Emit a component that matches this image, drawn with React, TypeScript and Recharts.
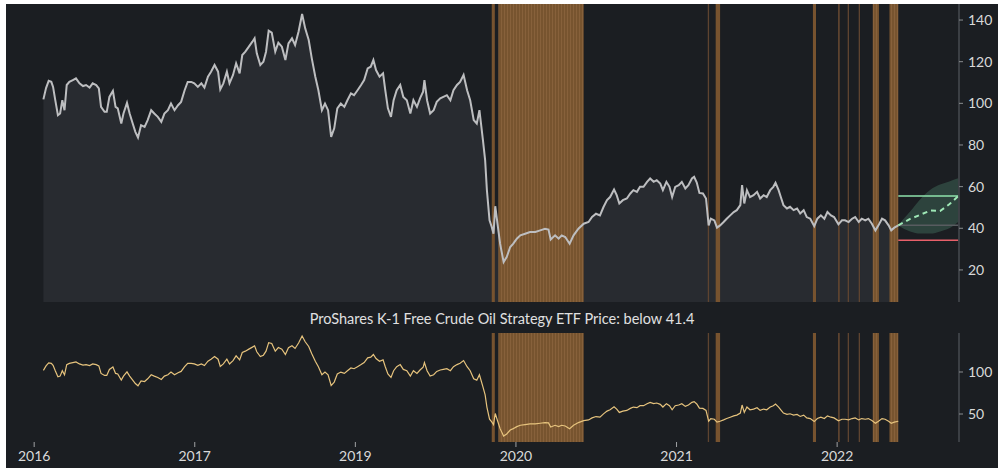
import {
  Area,
  ComposedChart,
  Line,
  ReferenceArea,
  ReferenceLine,
  XAxis,
  YAxis,
} from "recharts"

// day offsets (one tick = 365 days) and closing prices
const days = [
  21, 27, 33, 39, 43, 48, 54, 59, 64, 69, 74, 80, 88, 95, 103, 111, 118, 126, 133, 141,
  147, 152, 160, 165, 171, 179, 185, 190, 198, 203, 211, 217, 224, 230, 236, 243, 251, 258, 266, 273,
  281, 289, 296, 304, 311, 319, 327, 334, 342, 349, 357, 364, 372, 380, 387, 395, 402, 410, 418, 423,
  430, 438, 444, 452, 459, 467, 473, 480, 488, 496, 501, 506, 514, 521, 527, 533, 540, 548, 555, 563,
  571, 578, 586, 593, 601, 609, 616, 624, 631, 639, 646, 654, 661, 668, 675, 682, 689, 697, 705, 712,
  720, 727, 735, 743, 750, 758, 765, 771, 777, 785, 793, 798, 804, 811, 817, 824, 832, 839, 847, 855,
  862, 870, 877, 884, 887, 893, 900, 908, 915, 923, 930, 938, 946, 953, 961, 968, 976, 984, 991, 999,
  1006, 1012, 1020, 1025, 1029, 1035, 1040, 1044, 1048, 1053, 1059, 1067, 1074, 1082, 1089, 1097, 1105, 1116, 1127, 1139,
  1150, 1161, 1169, 1174, 1184, 1192, 1199, 1207, 1217, 1226, 1237, 1249, 1260, 1268, 1277, 1286, 1294, 1302, 1309, 1318,
  1324, 1330, 1338, 1347, 1355, 1362, 1370, 1377, 1385, 1393, 1400, 1408, 1415, 1423, 1429, 1437, 1444, 1450, 1457, 1465,
  1472, 1480, 1487, 1495, 1500, 1506, 1512, 1520, 1527, 1533, 1538, 1546, 1552, 1559, 1567, 1574, 1582, 1590, 1597, 1605,
  1609, 1614, 1620, 1627, 1635, 1643, 1650, 1658, 1665, 1673, 1680, 1685, 1692, 1697, 1703, 1711, 1718, 1726, 1734, 1741,
  1749, 1756, 1764, 1773, 1780, 1788, 1796, 1803, 1811, 1818, 1828, 1836, 1843, 1851, 1859, 1866, 1874, 1881, 1889, 1896,
  1904, 1912, 1919, 1927, 1934, 1942, 1948, 1955, 1964,
]

const price = [
  101.9, 107.3, 110.8, 110.3, 107.9, 101.5, 94.3, 95.1, 101.5, 96.7, 108.8, 110.3, 111.2, 112, 109.6, 108.3, 108.8, 107.6, 109.6, 108.8,
  107.2, 98.3, 95.9, 95.9, 103.1, 106, 98.3, 97.6, 90.3, 95.1, 100.2, 95.1, 90.3, 86.3, 83.6, 89.5, 88.7, 91.9, 96.7, 95.1,
  93.5, 91.1, 95.1, 96.7, 99.9, 96.7, 99.1, 100.7, 106.3, 110.3, 110.3, 109.6, 107.9, 109.6, 107.6, 112.8, 115.2, 118.4, 115.2, 106.7,
  109.6, 115.2, 109.6, 113.6, 119.2, 114.4, 123.2, 124.8, 127.2, 129.6, 131.2, 124, 118.4, 120, 124.8, 134.9, 134, 124.8, 129.1, 127.2,
  120.8, 128.8, 131.2, 128, 134.5, 142.9, 136, 130.4, 121.6, 112.8, 106.3, 96.7, 99.9, 96.7, 83.9, 88, 97.6, 99.9, 98.3, 101.5,
  104.8, 103.9, 106.3, 108.8, 111.2, 116.8, 117.6, 120.8, 116, 112.8, 114.4, 106.3, 97.6, 93.5, 101.5, 106.3, 108.8, 103.1, 101.5, 95.1,
  101.5, 98.3, 102.4, 105.6, 111.2, 101.5, 95.1, 96.7, 100.7, 102.4, 103.1, 103.9, 101.5, 106.3, 108.8, 110.3, 113.6, 106.3, 101.5, 92,
  90.3, 96.7, 82.3, 72.7, 58.3, 43.8, 40.6, 37.4, 50.6, 42.3, 32.6, 23.8, 26.2, 31, 32.6, 35, 36.6, 37.4, 38.2, 38.2,
  39, 39.8, 39.4, 34.6, 36.6, 35, 36.6, 35.8, 32.6, 36.6, 39.8, 42.2, 43, 45.4, 47, 46.2, 50.2, 53.5, 55, 58.6,
  55.9, 51.9, 53.5, 54.3, 56.7, 58.3, 57.5, 59.9, 59.9, 62.3, 63.9, 62.3, 63.1, 61.5, 58.3, 62.3, 59.9, 55, 59.9, 60.7,
  62.3, 59.1, 60.7, 63.9, 64.7, 62, 57, 56.7, 54.3, 41.4, 44.6, 43.8, 40.3, 41.4, 43, 44.6, 46.2, 47.8, 48.7, 51.1,
  60.7, 51.9, 58.3, 55, 55.9, 57.5, 54.3, 55.9, 55, 58.3, 59.9, 61.8, 58.3, 55, 51.1, 49.5, 50.3, 48.7, 49.5, 47.1,
  48.7, 45.4, 44.6, 41, 44.6, 46.2, 44.6, 47.8, 46.2, 45.4, 41.9, 43.8, 43.8, 43, 44.6, 45.4, 43, 44.6, 43.8, 44.6,
  42.2, 39, 41.4, 44.6, 43.8, 41.4, 39, 40.3, 41.4,
]

// forecast cone
const fcDays = [1964, 1991, 2014, 2037, 2059, 2080, 2100]
const fcMid = [41.4, 44.5, 46.5, 48.5, 48.3, 51.5, 55.4]
const fcLow = [41.2, 38.5, 37.5, 37.5, 38.5, 40, 43]
const fcHigh = [41.6, 48, 54, 58.5, 61, 62.5, 64]

const targetHigh = 55.5
const targetLow = 34.3
const threshold = 41.4

// periods where price was below threshold
const bandStart = [1040, 1055, 1531, 1549, 1770, 1827, 1849, 1874, 1906, 1944]
const bandEnd = [1047, 1249, 1534, 1559, 1777, 1831, 1852, 1877, 1920, 1964]

const tickDays = [0, 365, 730, 1095, 1460, 1825]
const tickLabels = ["2016", "2017", "2019", "2020", "2021", "2022"]
const topTicks = [20, 40, 60, 80, 100, 120, 140]
const bottomTicks = [50, 100]

const rows = [
  ...days.map((d, i) => ({ day: d, price: price[i] })),
  ...fcDays.map((d, i) => ({ day: d, mid: fcMid[i], range: [fcLow[i], fcHigh[i]] })),
]

const FONT = "Lato, sans-serif"
const BG = "#1b1e22"
const X_DOMAIN: [number, number] = [-64, 2102]
const tickStyle = { fill: "#d9d9d9", fontSize: 14, fontFamily: FONT }

const bandFill = (i: number) => {
  const w = bandEnd[i] - bandStart[i]
  if (w > 12) return "url(#stripes)"
  if (w < 5) return "#5e4430"
  return "#77532f"
}

function Bands() {
  return (
    <>
      {bandStart.map((s, i) => (
        <ReferenceArea
          key={i}
          x1={s}
          x2={bandEnd[i]}
          fill={bandFill(i)}
          fillOpacity={1}
          stroke="none"
          ifOverflow="hidden"
        />
      ))}
    </>
  )
}

function StripeDefs() {
  return (
    <defs>
      <pattern id="stripes" patternUnits="userSpaceOnUse" width="3" height="10">
        <rect x="0" y="0" width="3" height="10" fill="#77542f" />
        <rect x="0" y="0" width="1" height="10" fill="#87613b" />
      </pattern>
    </defs>
  )
}

export default function App() {
  return (
    <div
      style={{
        position: "fixed",
        left: 6,
        top: 4,
        width: 992,
        height: 464,
        background: BG,
        overflow: "hidden",
        fontFamily: FONT,
      }}
    >
      <div style={{ position: "absolute", left: 0, top: 0 }}>
        <ComposedChart width={992} height={310} data={rows} margin={{ top: 0, right: 0, bottom: 0, left: 0 }}>
          <StripeDefs />
          <XAxis
            dataKey="day"
            type="number"
            domain={X_DOMAIN}
            allowDataOverflow
            ticks={tickDays}
            tick={false}
            tickLine={{ stroke: "#a0a2a5" }}
            tickSize={4}
            axisLine={false}
            height={12}
          />
          <YAxis
            orientation="right"
            type="number"
            domain={[4.6, 147.7]}
            allowDataOverflow
            ticks={topTicks}
            width={39}
            tickSize={4}
            tickMargin={5}
            axisLine={{ stroke: "#5d6166" }}
            tickLine={{ stroke: "#8a8d90" }}
            tick={tickStyle}
          />
          <Area
            type="linear"
            dataKey="price"
            fill="#282b30"
            fillOpacity={1}
            stroke="none"
            isAnimationActive={false}
          />
          {Bands()}
          <Area
            type="monotone"
            dataKey="range"
            fill="#4f8a70"
            fillOpacity={0.35}
            stroke="none"
            isAnimationActive={false}
          />
          <ReferenceLine
            segment={[{ x: fcDays[0], y: threshold }, { x: fcDays[fcDays.length - 1], y: threshold }]}
            stroke="#585c60"
            strokeWidth={1.5}
          />
          <ReferenceLine
            segment={[{ x: fcDays[0], y: targetHigh }, { x: fcDays[fcDays.length - 1], y: targetHigh }]}
            stroke="#8fe3ad"
            strokeWidth={1.5}
          />
          <ReferenceLine
            segment={[{ x: fcDays[0], y: targetLow }, { x: fcDays[fcDays.length - 1], y: targetLow }]}
            stroke="#e8606a"
            strokeWidth={1.5}
          />
          <Line
            type="linear"
            dataKey="price"
            stroke="#bdbec0"
            strokeWidth={2}
            dot={false}
            isAnimationActive={false}
          />
          <Line
            type="linear"
            dataKey="mid"
            stroke="#9ee8b6"
            strokeWidth={2}
            strokeDasharray="5 4"
            dot={false}
            isAnimationActive={false}
          />
        </ComposedChart>
      </div>

      <div
        style={{
          position: "absolute",
          left: 0,
          top: 306,
          width: 992,
          textAlign: "center",
          fontSize: 14.5,
          lineHeight: "17px",
          color: "#e0e0e0",
          whiteSpace: "nowrap",
        }}
      >
        ProShares K-1 Free Crude Oil Strategy ETF Price: below 41.4
      </div>

      <div style={{ position: "absolute", left: 0, top: 329 }}>
        <ComposedChart width={992} height={135} data={rows} margin={{ top: 0, right: 0, bottom: 0, left: 0 }}>
          <StripeDefs />
          <XAxis
            dataKey="day"
            type="number"
            domain={X_DOMAIN}
            allowDataOverflow
            ticks={tickDays}
            tickFormatter={(v) => tickLabels[tickDays.indexOf(v)]}
            tick={tickStyle}
            tickLine={{ stroke: "#a0a2a5" }}
            tickSize={5}
            tickMargin={4}
            axisLine={false}
            height={26}
          />
          <YAxis
            orientation="right"
            type="number"
            domain={[16.7, 146.4]}
            allowDataOverflow
            ticks={bottomTicks}
            width={39}
            tickSize={4}
            tickMargin={5}
            axisLine={{ stroke: "#5d6166" }}
            tickLine={{ stroke: "#8a8d90" }}
            tick={tickStyle}
          />
          {Bands()}
          <Line
            type="linear"
            dataKey="price"
            stroke="#e6c37d"
            strokeWidth={1.2}
            dot={false}
            isAnimationActive={false}
          />
        </ComposedChart>
      </div>
    </div>
  )
}
